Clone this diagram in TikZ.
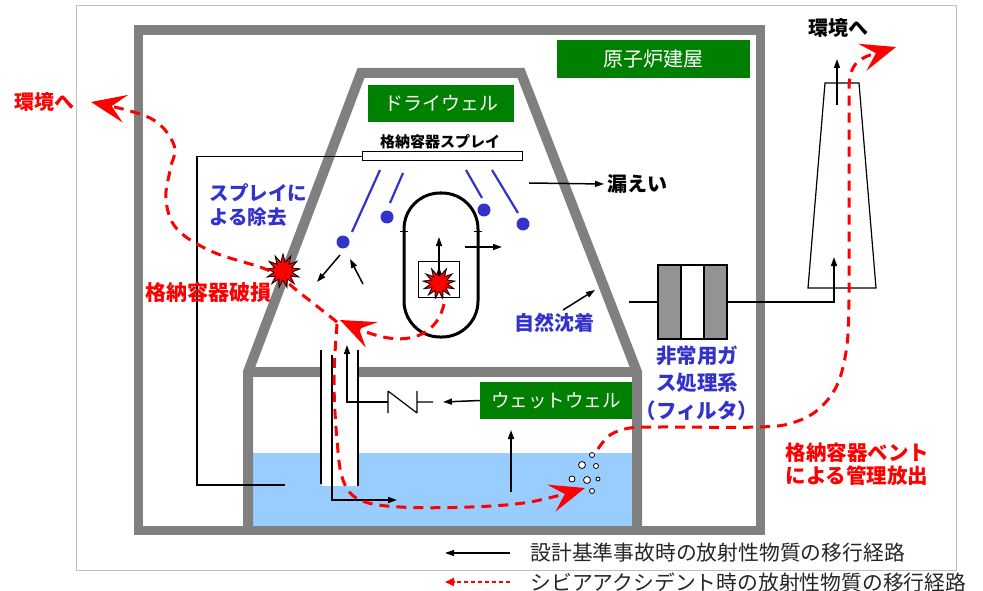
\documentclass[tikz,border=0pt]{standalone}
\usepackage{fontspec}
\setmainfont{Noto Sans CJK JP}
\usepackage{xcolor}
\usepackage{tikz}
\usetikzlibrary{arrows.meta,shapes.geometric}

\definecolor{wallgray}{RGB}{128,128,128}
\definecolor{boxgreen}{RGB}{0,128,0}
\definecolor{sprayblue}{RGB}{51,51,204}
\definecolor{poolblue}{RGB}{153,204,255}
\newcommand{\fsz}[2]{\fontsize{#1}{#2}\selectfont}

\begin{document}
\begin{tikzpicture}[x=1pt,y=-1pt,
  wall/.style={draw=wallgray,line width=10pt},
  pipe/.style={black,line width=1.2pt},
  flow/.style={black,line width=1.5pt,-{Triangle[length=9pt,width=6pt]}},
  severe/.style={red,line width=3pt,dash pattern=on 10pt off 7pt,
    -{Stealth[length=35pt,width=28pt,inset=14pt]}},
  greenbox/.style={fill=boxgreen,text=white,inner sep=0pt},
  droplet/.style={circle,fill=sprayblue,inner sep=0pt,minimum size=13pt},
  burst/.style={star,star points=13,star point ratio=1.9,fill=red,draw=black,
    line width=0.8pt,inner sep=0pt,minimum size=32pt},
  bubble/.style={draw=black,fill=white,line width=0.8pt}]
  \useasboundingbox (0,0) rectangle (983,591);

  % thin outer frame
  \draw[black!25,line width=1pt] (76,6) rectangle (956,570);

  % reactor building
  \draw[wall,line width=9.5pt] (138.5,30) rectangle (760.5,530.5);
  \node[greenbox,minimum width=193pt,minimum height=38pt,font=\fsz{20}{24}]
    (building) at (653.5,59) {原子炉建屋};

  % suppression pool water, vent pipe inside stays dry
  \fill[poolblue] (253,453) rectangle (632,526);
  \fill[white] (322,453) rectangle (357,486);

  % containment: drywell cone and wetwell
  \draw[wall,line join=miter] (248,531) -- (248,372) -- (361,73) -- (521,73)
    -- (637,372) -- (637,531);
  \draw[wall] (248,372) -- (321,372) (358,372) -- (637,372);
  \node[greenbox,minimum width=146pt,minimum height=37pt,font=\fsz{19}{23}]
    (drywell) at (441,103.5) {ドライウェル};
  \node[greenbox,minimum width=152pt,minimum height=37pt,font=\fsz{18.5}{22}]
    (wetwell) at (556,400.5) {ウェットウェル};

  % vent pipe
  \draw[pipe] (321,350) -- (321,484) (358,350) -- (358,486);

  % containment spray header and its feed line
  \node[draw,fill=white,line width=1pt,minimum width=160pt,minimum height=9pt,
    inner sep=0pt] (header) at (442,156.5) {};
  \node[font=\fsz{15}{18}\bfseries] (headerlbl) at (440,142) {格納容器スプレイ};
  \draw[pipe] (header.west) -- (197,156.5) -- (197,485) -- (285,485);

  % spray jets and droplets
  \foreach \a/\b/\c/\d/\e/\f [count=\i] in {380/170/352/232/343/242,
      403/173/390/203/387/217, 466/170/482/198/484/210, 492/170/518/213/523/224}{
    \draw[sprayblue,line width=2.2pt] (\a,\b) -- (\c,\d);
    \node[droplet] (drop\i) at (\e,\f) {};
  }
  \draw[flow] (340,255) -- (317,282);
  \draw[flow] (363,284) -- (350,259);
  \node[sprayblue,align=left,anchor=west,font=\fsz{19.5}{24}\bfseries]
    (spraylbl) at (206,205) {スプレイに\\よる除去};

  % reactor pressure vessel and core
  \draw[line width=3pt,rounded corners=36pt] (404,193) rectangle (478,337);
  \draw[line width=1pt] (400,231) -- (408,231) (474,231) -- (482,231);
  \node[draw,line width=1pt,minimum width=41pt,minimum height=36pt,inner sep=0pt]
    (core) at (438.5,279) {};
  \node[burst] (melt) at (439,283) {};
  \draw[flow] (439,276) -- (439,237);
  \draw[flow] (465,247) -- (502,247);

  % leakage out of the drywell
  \node[anchor=west,font=\fsz{20}{24}\bfseries] (leak) at (604,184) {漏えい};
  \draw[flow] (529,183) -- (leak.west);

  % natural deposition
  \node[sprayblue,font=\fsz{20}{24}\bfseries] (settle) at (554,323) {自然沈着};
  \draw[flow] (563,310) -- (595,290);

  % wetwell: vent, vacuum breaker and check valve
  \draw[flow] (332,355) -- (332,500) -- (397,500);
  \draw[flow] (388,402) -- (347,402) -- (347,345);
  \draw[pipe] (388,391) -- (388,413) (388,391) -- (417,413) (417,391) -- (417,413)
    (417,402) -- (433,402);
  \draw[flow] (wetwell.west) -- (443,402);
  \draw[flow] (511,492) -- (511,430);

  % bubbles in the pool
  \foreach \x/\y/\r in {592/455/2.5, 582/465/3.5, 596/466/2.5, 572/479/3,
      587/480/3.5, 598/479/2, 592/491/2.5}
    \draw[bubble] (\x,\y) circle (\r pt);

  % standby gas treatment filter and stack
  \fill[gray!85] (658,265) rectangle (681,339) (704,265) rectangle (727,339);
  \node[draw,line width=1.2pt,minimum width=69pt,minimum height=74pt,inner sep=0pt]
    (filter) at (692.5,302) {};
  \draw[line width=1.2pt] (681,265) -- (681,339) (704,265) -- (704,339);
  \draw[pipe] (629,302) -- (filter.west);
  \draw[flow] (filter.east) -- (834,302) -- (834,257);
  \node[sprayblue,align=center,font=\fsz{20.5}{27.5}\bfseries]
    (sgts) at (697,383) {非常用ガ\\ス処理系\\（フィルタ）};
  \draw[line width=1.2pt] (825,83) -- (859,83) -- (876,288) -- (808,288) -- cycle;
  \draw[flow] (837,105) -- (837,59);
  \node[font=\fsz{20}{24}\bfseries] (envright) at (838,28) {環境へ};

  % breach of the containment
  \node[burst,minimum size=34pt] (breach) at (283,271) {};
  \node[red,font=\fsz{21}{24}\bfseries] (breachlbl) at (208,293) {格納容器破損};
  \node[red,font=\fsz{20}{24}\bfseries] (envleft) at (44,102) {環境へ};

  % severe accident release routes
  \draw[severe] (444,304) .. controls (436,340) and (400,348) .. (340,320);
  \draw[severe] plot[smooth,tension=0.6] coordinates {(337,322) (300,293)
    (270,271) (213,252) (177,229) (166,200) (170,170) (174,145) (150,118) (91,102)};
  \draw[severe] plot[smooth,tension=0.6] coordinates {(337,324) (334,380)
    (337,440) (343,480) (360,500) (400,507) (470,507) (530,502) (585,488)};
  \draw[severe] plot[smooth,tension=0.6] coordinates {(598,449) (610,435)
    (630,428) (660,427) (760,427) (795,422) (820,408) (838,383) (847,345)
    (849,300)} -- (849,90) .. controls (849,62) and (860,58) .. (896,47);
  \node[red,align=left,anchor=west,font=\fsz{20.5}{23}\bfseries]
    (ventlbl) at (782,464.5) {格納容器ベント\\による管理放出};

  % legend
  \node[anchor=west,text=black!85,font=\fsz{20.8}{24}] (dbalbl) at (527,553)
    {設計基準事故時の放射性物質の移行経路};
  \node[anchor=west,text=black!85,font=\fsz{20.8}{24}] (salbl) at (527,582)
    {シビアアクシデント時の放射性物質の移行経路};
  \draw[flow,line width=1.2pt] ([xshift=-17pt]dbalbl.west) -- ++(-65,0);
  \draw[red,line width=2pt,dash pattern=on 4pt off 3pt,
    -{Triangle[length=9pt,width=8pt]}] ([xshift=-17pt]salbl.west) -- ++(-65,0);
\end{tikzpicture}
\end{document}
